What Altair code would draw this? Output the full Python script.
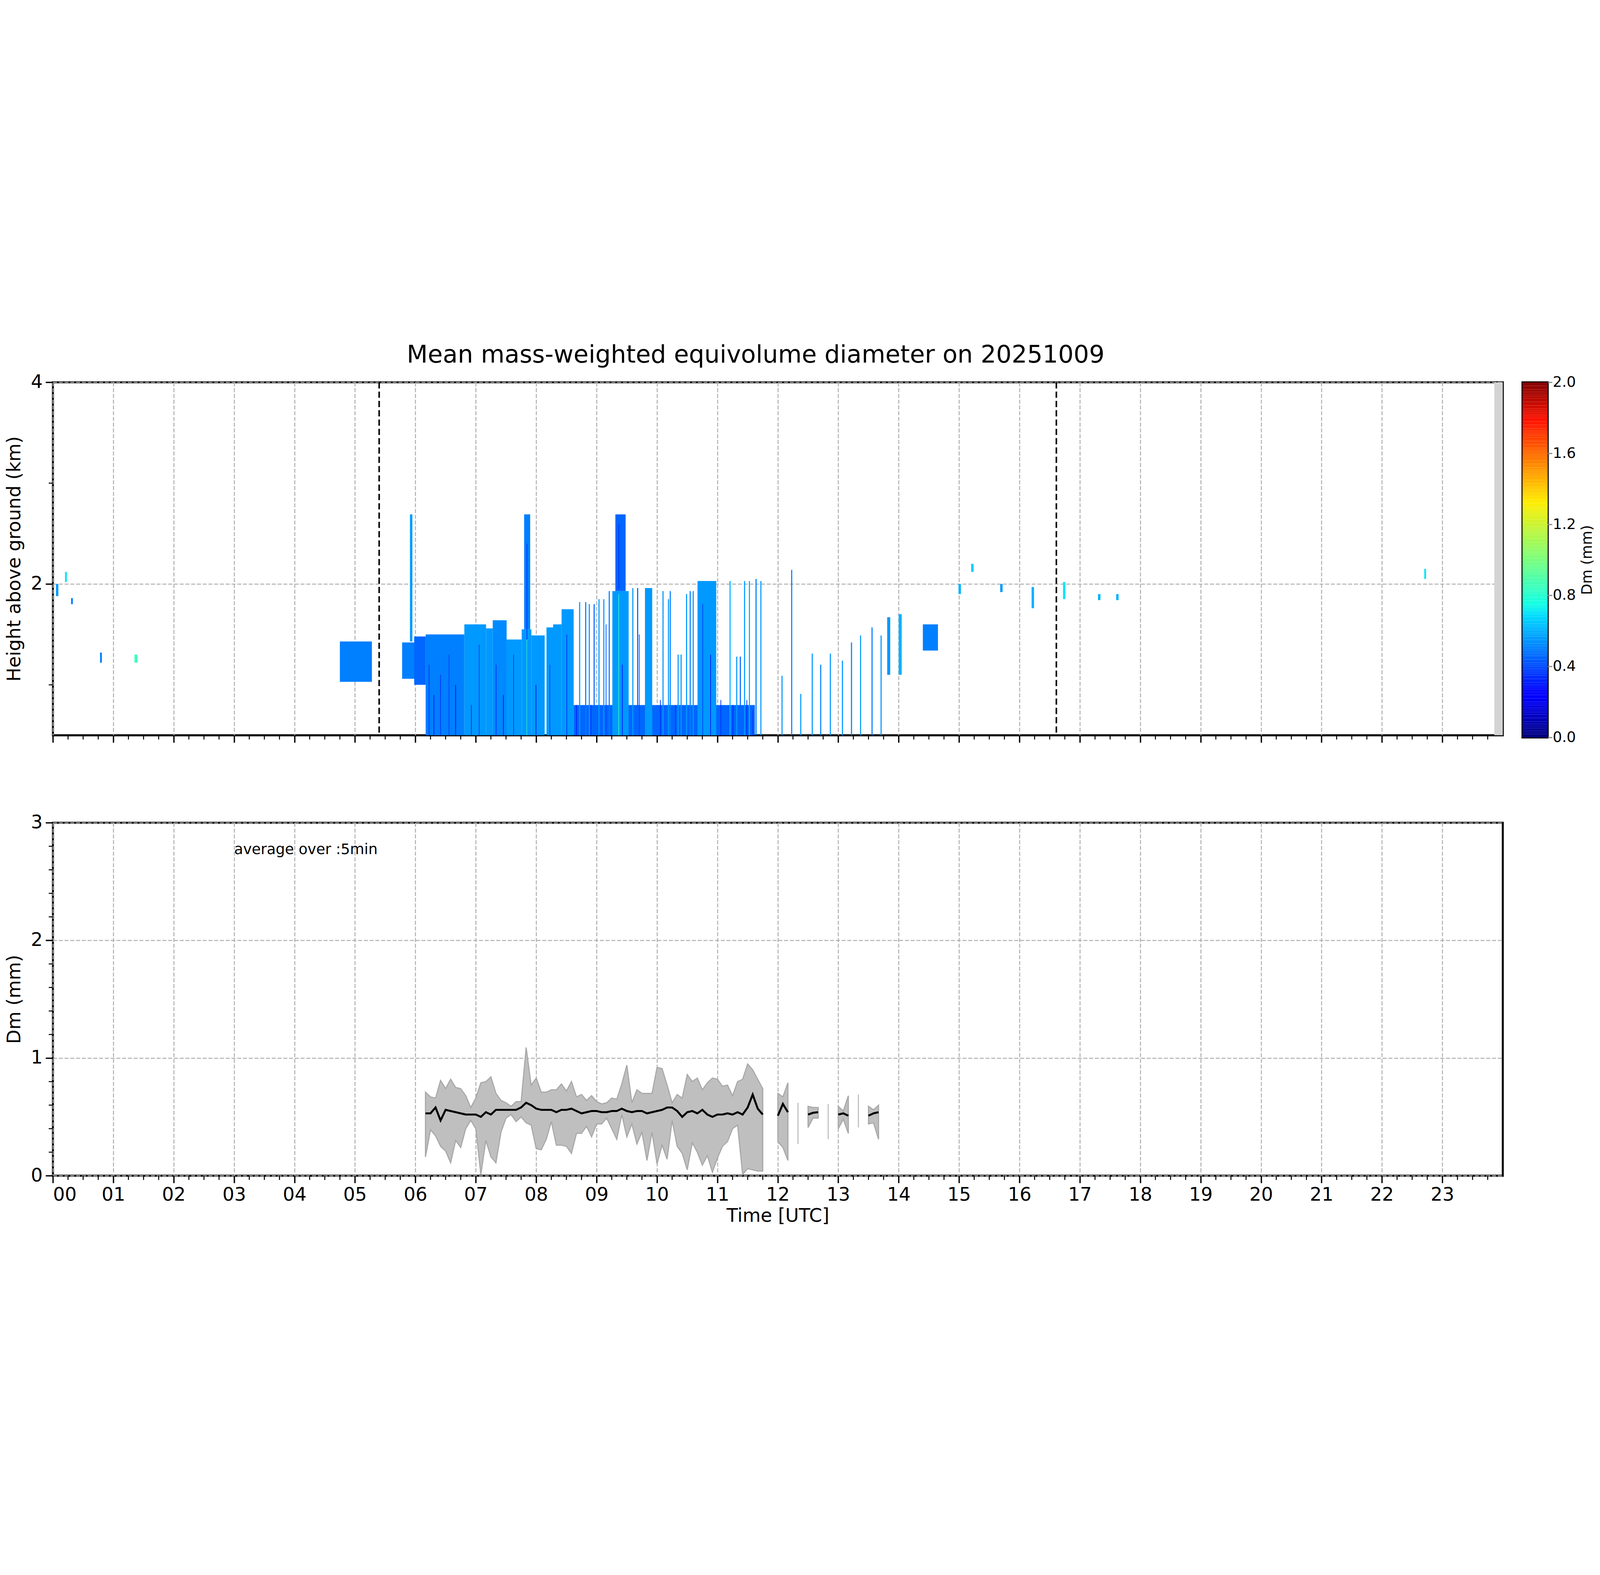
import altair as alt
import pandas as pd
import numpy as np

S = 4.746  # scale from the 1568px layout
W = int(1380 * S)
H = int(336 * S)
FONT = "DejaVu Sans"

# ---- top panel: radar Dm blocks (hour start, hour end, bottom km, top km, Dm mm)
blk_start = [0.05, 0.20, 0.30, 0.78, 1.35, 4.75, 5.78, 5.91, 5.98, 6.17, 6.81, 7.17, 7.28, 7.51, 7.76, 7.80,
             7.92, 8.17, 8.28, 8.42, 8.62, 9.26, 9.31, 9.80, 10.67, 13.81, 14.00, 14.40, 14.99, 15.20,
             15.68, 16.20, 16.72, 17.30, 17.60, 22.70]
blk_end = [0.09, 0.23, 0.33, 0.81, 1.40, 5.28, 6.01, 5.95, 6.17, 6.81, 7.17, 7.28, 7.51, 7.76, 7.92, 7.90,
           8.14, 8.28, 8.42, 8.62, 11.62, 9.53, 9.48, 9.92, 10.98, 13.86, 14.05, 14.65, 15.03, 15.24,
           15.72, 16.24, 16.76, 17.34, 17.64, 22.73]
blk_bottom = [1.88, 2.02, 1.80, 1.22, 1.22, 1.03, 1.06, 1.43, 1.00, 0.50, 0.50, 0.50, 0.50, 0.50, 0.50, 1.55,
              0.50, 0.50, 0.50, 0.50, 0.50, 0.50, 1.93, 0.50, 0.50, 1.10, 1.10, 1.34, 1.90, 2.12,
              1.92, 1.76, 1.85, 1.84, 1.84, 2.05]
blk_top = [2.00, 2.12, 1.86, 1.32, 1.30, 1.43, 1.42, 2.69, 1.48, 1.50, 1.60, 1.56, 1.64, 1.45, 1.55, 2.69,
           1.49, 1.57, 1.60, 1.75, 0.80, 1.93, 2.69, 1.96, 2.03, 1.67, 1.70, 1.60, 2.00, 2.20,
           2.00, 1.97, 2.02, 1.90, 1.90, 2.15]
blk_dm = [0.55, 0.70, 0.50, 0.50, 0.85, 0.50, 0.50, 0.55, 0.45, 0.50, 0.55, 0.55, 0.52, 0.55, 0.55, 0.50,
          0.55, 0.55, 0.55, 0.55, 0.45, 0.55, 0.45, 0.55, 0.55, 0.55, 0.60, 0.50, 0.60, 0.65,
          0.55, 0.60, 0.70, 0.60, 0.60, 0.70]

# thin fall streaks from the ground (hour, top km, Dm)
line_t = [8.71, 8.81, 8.87, 8.95, 9.03, 9.11, 9.20, 9.59, 9.67, 10.09, 10.18, 10.21, 10.34, 10.39, 10.48,
          10.54, 10.59, 11.20, 11.31, 11.37, 11.44, 11.52, 11.63, 11.71, 12.06, 12.22, 12.37, 12.56,
          12.70, 12.86, 13.06, 13.21, 13.36, 13.55, 13.70]
line_top = [1.82, 1.82, 1.80, 1.80, 1.85, 1.85, 1.93, 1.96, 1.96, 1.93, 1.85, 1.93, 1.30, 1.30, 1.90,
            1.93, 1.93, 2.03, 1.28, 1.28, 2.03, 2.03, 2.05, 2.03, 1.09, 2.14, 0.91, 1.31,
            1.20, 1.31, 1.24, 1.42, 1.49, 1.57, 1.49]
line_dm = [0.55, 0.50, 0.55, 0.45, 0.55, 0.55, 0.50, 0.55, 0.45, 0.55, 0.55, 0.50, 0.55, 0.55, 0.55,
           0.50, 0.55, 0.60, 0.55, 0.45, 0.55, 0.60, 0.50, 0.55, 0.55, 0.50, 0.55, 0.55,
           0.50, 0.55, 0.55, 0.50, 0.55, 0.50, 0.55]

# darker streaks inside the dense rain (hour, bottom km, top km, Dm)
dark_t = [6.22, 6.30, 6.41, 6.55, 6.66, 6.92, 7.05, 7.33, 7.45, 7.62, 7.84, 7.99, 8.22, 8.50, 8.66, 8.90,
          9.15, 9.36, 9.42, 9.70, 10.05, 10.30, 10.75, 10.88, 11.05, 11.25, 11.48, 11.58]
dark_b = [0.50, 0.50, 0.50, 0.50, 0.50, 0.50, 0.50, 0.50, 0.50, 0.50, 0.50, 0.50, 0.50, 0.50, 0.50, 0.50,
          0.50, 1.95, 0.50, 0.50, 0.50, 0.50, 0.50, 0.50, 0.50, 0.50, 0.50, 0.50]
dark_top = [1.20, 0.90, 1.10, 1.30, 1.00, 0.80, 1.40, 1.20, 0.90, 1.30, 2.40, 1.00, 1.20, 1.50, 0.80, 0.80,
            1.60, 2.60, 1.20, 1.50, 0.85, 0.80, 1.80, 1.30, 0.85, 0.80, 0.85, 0.75]
dark_dm = [0.35, 0.30, 0.35, 0.38, 0.30, 0.35, 0.38, 0.35, 0.30, 0.38, 0.35, 0.30, 0.38, 0.35, 0.30, 0.35,
           0.38, 0.35, 0.30, 0.38, 0.32, 0.35, 0.38, 0.30, 0.35, 0.30, 0.32, 0.35]
green_t = [7.84, 9.36]
green_top = [1.45, 1.9]

sun_lines = [5.40, 16.61]

# ---- bottom panel: 5-min mean Dm with spread
main_start = 6 + 10 / 60
main_mean = [0.53, 0.53, 0.58, 0.47, 0.56, 0.55, 0.54, 0.53, 0.52, 0.52, 0.52, 0.50, 0.54, 0.52, 0.56, 0.56,
             0.56, 0.56, 0.56, 0.58, 0.62, 0.60, 0.57, 0.56, 0.56, 0.56, 0.54, 0.56, 0.56, 0.57, 0.55, 0.53,
             0.54, 0.55, 0.55, 0.54, 0.54, 0.55, 0.55, 0.57, 0.55, 0.54, 0.55, 0.55, 0.53, 0.54, 0.55, 0.56,
             0.58, 0.58, 0.55, 0.50, 0.54, 0.55, 0.53, 0.56, 0.52, 0.50, 0.52, 0.52, 0.53, 0.52, 0.54, 0.52,
             0.58, 0.69, 0.57, 0.52]
main_hi = [0.71, 0.67, 0.66, 0.81, 0.74, 0.82, 0.75, 0.74, 0.68, 0.58, 0.66, 0.79, 0.80, 0.84, 0.70, 0.64,
           0.62, 0.59, 0.63, 0.63, 1.09, 0.77, 0.83, 0.71, 0.71, 0.73, 0.73, 0.78, 0.72, 0.80, 0.67, 0.69,
           0.64, 0.68, 0.63, 0.61, 0.62, 0.66, 0.65, 0.78, 0.94, 0.62, 0.73, 0.70, 0.70, 0.70, 0.92, 0.91,
           0.77, 0.62, 0.69, 0.66, 0.86, 0.80, 0.83, 0.73, 0.79, 0.83, 0.82, 0.76, 0.77, 0.68, 0.80, 0.82,
           0.95, 0.90, 0.82, 0.74]
main_lo = [0.16, 0.39, 0.34, 0.25, 0.21, 0.11, 0.30, 0.24, 0.40, 0.47, 0.40, 0.01, 0.30, 0.16, 0.11, 0.37,
           0.49, 0.52, 0.46, 0.50, 0.45, 0.43, 0.23, 0.22, 0.31, 0.46, 0.26, 0.26, 0.25, 0.19, 0.36, 0.36,
           0.42, 0.33, 0.44, 0.44, 0.49, 0.40, 0.31, 0.52, 0.33, 0.44, 0.27, 0.37, 0.13, 0.37, 0.10, 0.26,
           0.14, 0.47, 0.25, 0.19, 0.05, 0.28, 0.20, 0.09, 0.17, 0.03, 0.15, 0.25, 0.29, 0.40, 0.43, 0.01,
           0.06, 0.05, 0.04, 0.04]
seg_start = [12.0, 12.5, 13.0, 13.5]
seg_mean = [[0.51, 0.61, 0.54], [0.52, 0.535, 0.54], [0.52, 0.53, 0.51], [0.51, 0.53, 0.54]]
seg_hi = [[0.70, 0.67, 0.79], [0.59, 0.58, 0.58], [0.59, 0.55, 0.68], [0.59, 0.56, 0.60]]
seg_lo = [[0.29, 0.24, 0.13], [0.41, 0.49, 0.49], [0.40, 0.48, 0.36], [0.44, 0.45, 0.31]]
single_t = [12 + 20 / 60, 12 + 50 / 60, 13 + 20 / 60]
single_hi = [0.62, 0.61, 0.69]
single_lo = [0.27, 0.31, 0.41]

rows = []
for i in range(len(main_mean)):
    rows.append({"t": main_start + i * 5 / 60, "m": main_mean[i], "hi": main_hi[i], "lo": main_lo[i], "seg": 0})
for k in range(len(seg_start)):
    for i in range(3):
        rows.append({"t": seg_start[k] + i * 5 / 60, "m": seg_mean[k][i], "hi": seg_hi[k][i],
                     "lo": seg_lo[k][i], "seg": k + 1})
dm_df = pd.DataFrame(rows)

jet_dom = [0, 0.22, 0.25, 0.68, 0.75, 1.0, 1.32, 1.78, 2.0]
jet_rng = ["#000080", "#0000ff", "#0000ff", "#00dbff", "#14ffe3", "#7bff7b", "#ffed00", "#ff1300", "#800000"]
cscale = alt.Scale(domain=jet_dom, range=jet_rng, interpolate="rgb")

grid_kw = dict(gridColor="#b0b0b0", gridWidth=4.5, gridDash=[18, 8])
hours = list(range(24))


def x_axis(labels, title=None):
    kw = dict(values=hours, tickSize=33, tickWidth=6, tickColor="black", domain=False, grid=True, **grid_kw,
              labelFont=FONT, labelFontSize=84, labelColor="black", labelPadding=14,
              titleFont=FONT, titleFontSize=84, titleFontWeight="normal", titleColor="black", titlePadding=12)
    if labels:
        kw["labelExpr"] = "format(datum.value, '02d')"
    else:
        kw["labels"] = False
    kw["title"] = title if title else ""
    return alt.Axis(**kw)


def y_axis(vals, title):
    return alt.Axis(values=vals, tickSize=33, tickWidth=6, tickColor="black", domain=False, grid=True, **grid_kw,
                    labelFont=FONT, labelFontSize=84, labelColor="black", labelPadding=14, format="d",
                    title=title, titleFont=FONT, titleFontSize=84, titleFontWeight="normal",
                    titleColor="black", titlePadding=30)


xs = alt.Scale(domain=[0, 24], nice=False, zero=False)


def minor_ticks(y_max_px):
    mt = pd.DataFrame({"t": [h + q / 4 for h in range(24) for q in (1, 2, 3)]})
    return alt.Chart(mt).mark_rule(color="black", strokeWidth=4.5).encode(
        x=alt.X("t:Q", scale=xs),
        y=alt.value(y_max_px), y2=alt.value(y_max_px + 19))


def minor_yticks(vals, scale):
    mt = pd.DataFrame({"v": vals})
    return alt.Chart(mt).mark_rule(color="black", strokeWidth=4.5).encode(
        y=alt.Y("v:Q", scale=scale),
        x=alt.value(0), x2=alt.value(-19))


# ---- top chart
ys_top = alt.Scale(domain=[0.5, 4], nice=False, zero=False)
blk_df = pd.DataFrame({"t0": blk_start, "t1": blk_end, "b": blk_bottom, "top": blk_top, "dm": blk_dm})
ln_df = pd.DataFrame({"t0": line_t, "top": line_top, "dm": line_dm})
ln_df["t1"] = ln_df["t0"] + 0.018
ln_df["b"] = 0.5
dk_df = pd.DataFrame({"t0": dark_t, "b": dark_b, "top": dark_top, "dm": dark_dm})
dk_df["t1"] = dk_df["t0"] + 0.012
gr_df = pd.DataFrame({"t0": green_t, "top": green_top, "dm": [0.85, 0.85]})
gr_df["t1"] = gr_df["t0"] + 0.01
gr_df["b"] = 0.5

base_top = alt.Chart(pd.DataFrame({"t": [0, 24], "h": [0.5, 4]})).mark_point(opacity=0).encode(
    x=alt.X("t:Q", scale=xs, axis=x_axis(False)),
    y=alt.Y("h:Q", scale=ys_top, axis=y_axis([2, 4], "Height above ground (km)")))
rects = alt.Chart(pd.concat([blk_df, ln_df, dk_df, gr_df])).mark_rect().encode(
    x=alt.X("t0:Q", scale=xs), x2="t1:Q",
    y=alt.Y("b:Q", scale=ys_top), y2="top:Q",
    color=alt.Color("dm:Q", scale=cscale, legend=None))
grey = alt.Chart(pd.DataFrame({"t0": [23.86], "t1": [24.0], "b": [0.5], "top": [4.0]})).mark_rect(
    color="#d3d3d3").encode(x=alt.X("t0:Q", scale=xs), x2="t1:Q", y=alt.Y("b:Q", scale=ys_top), y2="top:Q")
sun = alt.Chart(pd.DataFrame({"t": sun_lines})).mark_rule(color="black", strokeWidth=7,
                                                         strokeDash=[28, 14]).encode(
    x=alt.X("t:Q", scale=xs))
top = alt.layer(base_top, grey, rects, sun, minor_ticks(H), minor_yticks([1, 3], ys_top)).properties(
    width=W, height=H)

# ---- colorbar
cb_df = pd.DataFrame({"v0": np.linspace(0, 2, 201)[:-1]})
cb_df["v1"] = cb_df["v0"] + 0.01
cbar = alt.Chart(cb_df).mark_rect().encode(
    x=alt.value(0), x2=alt.value(114),
    y=alt.Y("v0:Q", scale=alt.Scale(domain=[0, 2], nice=False),
            axis=alt.Axis(orient="right", values=[0, 0.4, 0.8, 1.2, 1.6, 2.0], format=".1f", tickSize=20,
                          tickWidth=5, domain=False, grid=False, labelFont=FONT, labelFontSize=66,
                          labelColor="black", title="Dm (mm)", titleFont=FONT, titleFontSize=66,
                          titleFontWeight="normal", titleColor="black", titlePadding=20,
                          titleAngle=270, titleBaseline="top")),
    y2="v1:Q",
    color=alt.Color("v0:Q", scale=cscale, legend=None)).properties(width=114, height=H + 10)

# ---- bottom chart
ys_bot = alt.Scale(domain=[0, 3], nice=False, zero=False)
base_bot = alt.Chart(pd.DataFrame({"t": [0, 24], "v": [0, 3]})).mark_point(opacity=0).encode(
    x=alt.X("t:Q", scale=xs, axis=x_axis(True, "Time [UTC]")),
    y=alt.Y("v:Q", scale=ys_bot, axis=y_axis([0, 1, 2, 3], "Dm (mm)")))
band = alt.Chart(dm_df).mark_area(color="#bfbfbf", stroke="#a8a8a8", strokeWidth=5).encode(
    x=alt.X("t:Q", scale=xs), y=alt.Y("lo:Q", scale=ys_bot), y2="hi:Q", detail="seg:N")
single = alt.Chart(pd.DataFrame({"t": single_t, "lo": single_lo, "hi": single_hi})).mark_rule(
    color="#bfbfbf", strokeWidth=5).encode(x=alt.X("t:Q", scale=xs), y=alt.Y("lo:Q", scale=ys_bot), y2="hi:Q")
mean = alt.Chart(dm_df).mark_line(color="black", strokeWidth=9).encode(
    x=alt.X("t:Q", scale=xs), y=alt.Y("m:Q", scale=ys_bot), detail="seg:N")
note = alt.Chart(pd.DataFrame({"t": [3.0], "v": [2.77], "s": ["average over :5min"]})).mark_text(
    align="left", baseline="middle", font=FONT, fontSize=66, color="black").encode(
    x=alt.X("t:Q", scale=xs), y=alt.Y("v:Q", scale=ys_bot), text="s:N")
bottom = alt.layer(base_bot, band, single, mean, note, minor_ticks(H),
                   minor_yticks([0.2, 0.4, 0.6, 0.8, 1.2, 1.4, 1.6, 1.8, 2.2, 2.4, 2.6, 2.8], ys_bot)).properties(
    width=W, height=H)

row1 = alt.hconcat(top, cbar, spacing=76)
chart = alt.vconcat(row1, bottom, spacing=300).properties(
    title=alt.TitleParams("Mean mass-weighted equivolume diameter on 20251009", font=FONT, fontSize=110,
                          fontWeight="normal", color="black", anchor="middle", offset=20, dx=-200)
).configure(background="white").configure_view(stroke="black", strokeWidth=9)

chart.save("out.html", embed_options={"renderer": "svg", "actions": False})
